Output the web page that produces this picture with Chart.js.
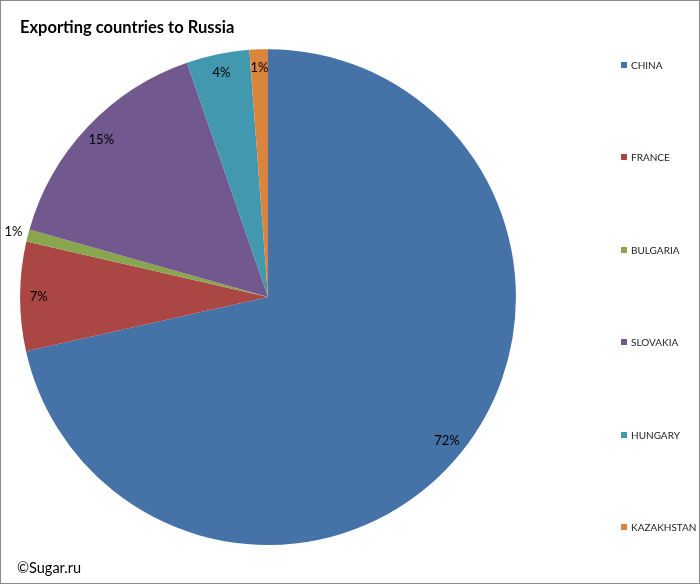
<!DOCTYPE html>
<html>
<head>
<meta charset="utf-8">
<script src="https://cdn.jsdelivr.net/npm/chart.js@4"></script>
<style>
  html, body { margin: 0; padding: 0; background: #fff; }
  #wrap { position: relative; width: 698px; height: 582px; border: 1px solid #8c8c8c; overflow: hidden; }
  #wrap canvas { position: absolute; left: -1px; top: -1px; }
  #legend { position: absolute; left: 620px; top: 0; font-family: Lato, "Open Sans", sans-serif; font-size: 10px; color: #222; }
  .item { position: absolute; left: 0; white-space: nowrap; line-height: 12px; }
  .item span.box { display: inline-block; width: 6px; height: 6px; margin-right: 4px; vertical-align: 1px; }
  #copy { position: absolute; left: 16px; top: 558px; font-family: Lato, "Open Sans", sans-serif; font-size: 14.5px; color: #000; }
</style>
</head>
<body>
<div id="wrap">
  <canvas id="pieChart" width="700" height="584"></canvas>
  <div id="legend"></div>
  <div id="copy">©Sugar.ru</div>
</div>
<script>
// data
const countries = ['CHINA', 'FRANCE', 'BULGARIA', 'SLOVAKIA', 'HUNGARY', 'KAZAKHSTAN'];
const shares = [71.5, 7.1, 0.8, 15.3, 4.1, 1.2];
const sliceColors = ['#4572A7', '#AA4643', '#89A54E', '#71588F', '#4198AF', '#DB843D'];

// percent labels on the slices (small ones go outside)
const percentLabels = {
    id: 'percentLabels',
    afterDatasetsDraw(chart) {
        const ctx = chart.ctx;
        const meta = chart.getDatasetMeta(0);
        const data = chart.data.datasets[0].data;
        const total = data.reduce((a, b) => a + b, 0);
        ctx.save();
        ctx.font = '13px Lato, "Open Sans", sans-serif';
        ctx.fillStyle = '#000';
        ctx.textAlign = 'center';
        ctx.textBaseline = 'middle';
        meta.data.forEach((arc, i) => {
            const p = arc.getProps(['x', 'y', 'startAngle', 'endAngle', 'outerRadius'], true);
            const mid = (p.startAngle + p.endAngle) / 2;
            const pct = data[i] / total * 100;
            const f = pct < 1 ? 1.06 : 0.925;
            const x = p.x + Math.cos(mid) * p.outerRadius * f;
            const y = p.y + Math.sin(mid) * p.outerRadius * f;
            ctx.fillText(Math.round(pct) + '%', x, y);
        });
        ctx.restore();
    }
};

function initChart() {
    const ctx = document.getElementById('pieChart').getContext('2d');
    new Chart(ctx, {
        type: 'pie',
        data: {
            labels: countries,
            datasets: [{
                data: shares,
                backgroundColor: sliceColors,
                borderWidth: 0
            }]
        },
        options: {
            responsive: false,
            animation: false,
            layout: {
                padding: { left: 20, right: 184, top: 18, bottom: 39 }
            },
            plugins: {
                legend: { display: false },
                tooltip: { enabled: false },
                title: {
                    display: true,
                    text: 'Exporting countries to Russia',
                    align: 'start',
                    color: '#000',
                    font: { family: 'Lato, "Open Sans", sans-serif', size: 16.5, weight: 'bold', lineHeight: 1.16 },
                    padding: { top: 0, bottom: 12 }
                }
            }
        },
        plugins: [percentLabels]
    });
}

// html legend built from the arrays
function buildLegend() {
    const legend = document.getElementById('legend');
    countries.forEach((name, i) => {
        const div = document.createElement('div');
        div.className = 'item';
        div.style.top = (58 + i * 92.4) + 'px';
        div.innerHTML = '<span class="box" style="background:' + sliceColors[i] + '"></span>' + name;
        legend.appendChild(div);
    });
}

initChart();
buildLegend();
</script>
</body>
</html>
